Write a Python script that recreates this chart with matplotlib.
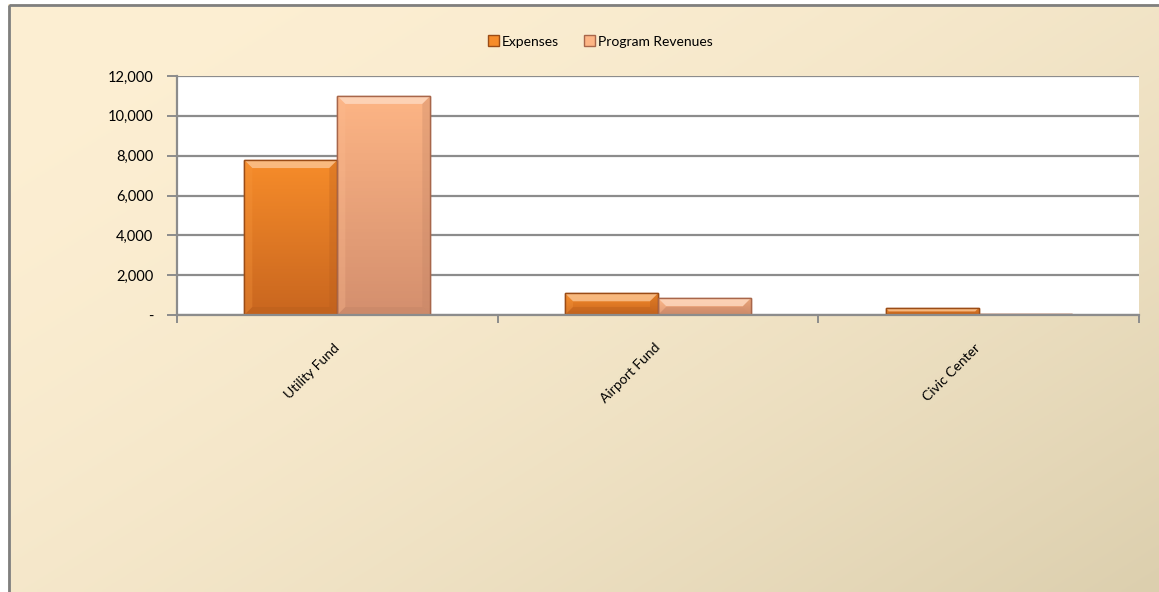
import matplotlib.pyplot as plt
import matplotlib.colors as mcolors
from matplotlib.patches import Polygon, Rectangle
from matplotlib.ticker import FuncFormatter
import numpy as np

categories = ["Utility Fund", "Airport Fund", "Civic Center"]
expenses = [7780, 1090, 350]
program_revenues = [11000, 850, 60]
series_names = ["Expenses", "Program Revenues"]

W, H = 1159, 592
fig = plt.figure(figsize=(W / 100, H / 100), dpi=100)
fig.patch.set_facecolor("white")

# background panel with a soft diagonal gradient
bg = fig.add_axes([0, 0, 1, 1], zorder=-10)
bg.set_axis_off()
yy, xx = np.mgrid[0:1:200j, 0:1:400j]
t = np.clip((0.55 * xx + 0.45 * yy), 0, 1) ** 1.8
c0 = np.array(mcolors.to_rgb("#fdefd3"))
c1 = np.array(mcolors.to_rgb("#dccfae"))
img = c0[None, None, :] * (1 - t[..., None]) + c1[None, None, :] * t[..., None]
bg.imshow(img, extent=[8, W, H, 4], aspect="auto")
bg.set_xlim(0, W)
bg.set_ylim(H, 0)
bg.add_patch(Rectangle((9, 5), W + 20, H + 20, fill=False, edgecolor="#7f7f7f", lw=2))

ax = fig.add_axes([177 / W, 1 - 315 / H, (1139 - 177) / W, (315 - 76) / H])
ax.set_facecolor("white")
x = np.arange(len(categories))
bw = 0.29
ax.set_xlim(-0.5, len(categories) - 0.5)
ax.set_ylim(0, 12000)

ax.set_yticks(np.arange(0, 12001, 2000))
ax.yaxis.set_major_formatter(FuncFormatter(lambda v, p: "-" if v == 0 else f"{int(v):,}"))
ax.grid(axis="y", color="#8c8c8c", lw=1.6)
ax.set_axisbelow(True)
for s in ["top", "right"]:
    ax.spines[s].set_visible(False)
for s in ["left", "bottom"]:
    ax.spines[s].set_color("#8c8c8c")
    ax.spines[s].set_linewidth(1.6)

ax.set_xticks(np.arange(len(categories) + 1) - 0.5)
ax.set_xticklabels([])
ax.set_xticks(x, minor=True)
ax.set_xticklabels(categories, minor=True, rotation=45, ha="right", va="center",
                   rotation_mode="anchor", fontsize=10, family="Lato")
ax.tick_params(axis="x", which="minor", length=0, pad=22)
ax.tick_params(axis="x", which="major", length=6, color="#8c8c8c", width=1.4)
ax.tick_params(axis="y", length=7, color="#8c8c8c", width=1.4, labelsize=10.5, pad=10)
for lab in ax.get_yticklabels():
    lab.set_family("Lato")

styles = {
    "Expenses": ("#f68c2a", "#c9661f", "#9a4c16"),
    "Program Revenues": ("#fdb585", "#d48f6e", "#a8664a"),
}


def shade(col, f):
    c = np.array(mcolors.to_rgb(col))
    if f > 0:
        return tuple(c + (1 - c) * f)
    return tuple(c * (1 + f))


def draw_bars(xpos, vals, name):
    top, bot, edge = styles[name]
    bars = ax.bar(xpos, vals, bw, color=top, edgecolor=edge, lw=1, zorder=2)
    grad = np.linspace(0, 1, 64)[:, None]
    ct, cb = np.array(mcolors.to_rgb(top)), np.array(mcolors.to_rgb(bot))
    gimg = ct[None, None, :] * (1 - grad[..., None]) + cb[None, None, :] * grad[..., None]
    inv = ax.transData.inverted()
    for b in bars:
        x0, y0 = b.get_x(), 0
        x1, y1 = b.get_x() + b.get_width(), b.get_height()
        im = ax.imshow(gimg, extent=[x0, x1, y0, y1], aspect="auto", zorder=2.1,
                       origin="upper")
        im.set_clip_path(b)
        # bevelled edges in pixel space
        (px0, py0), (px1, py1) = ax.transData.transform([(x0, y0), (x1, y1)])
        bv = min(8, (py1 - py0) / 2, (px1 - px0) / 2)
        outer = [(px0, py1), (px1, py1), (px1, py0), (px0, py0)]
        inner = [(px0 + bv, py1 - bv), (px1 - bv, py1 - bv), (px1 - bv, py0 + bv), (px0 + bv, py0 + bv)]
        faces = [
            ([outer[0], outer[1], inner[1], inner[0]], shade(top, 0.5), 0.8),
            ([outer[1], outer[2], inner[2], inner[1]], shade(bot, -0.1), 0.3),
            ([outer[3], outer[0], inner[0], inner[3]], shade(top, 0.1), 0.3),
            ([outer[2], outer[3], inner[3], inner[2]], shade(bot, -0.1), 0.35),
        ]
        for pts, col, a in faces:
            ax.add_patch(Polygon(inv.transform(pts), closed=True, facecolor=col,
                                 edgecolor="none", alpha=a, zorder=2.2))
        ax.add_patch(Rectangle((x0, y0), x1 - x0, y1 - y0, fill=False, edgecolor=edge,
                               lw=1, zorder=2.3))
    return bars


b1 = draw_bars(x - bw / 2, expenses, "Expenses")
b2 = draw_bars(x + bw / 2, program_revenues, "Program Revenues")

leg = fig.legend([b1, b2], series_names, loc="center", bbox_to_anchor=(0.518, 0.93),
                 ncol=2, frameon=False, handlelength=0.8, handleheight=0.8,
                 handletextpad=0.2, columnspacing=1.8, prop={"family": "Lato", "size": 10})

fig.savefig("out.png", dpi=100)
